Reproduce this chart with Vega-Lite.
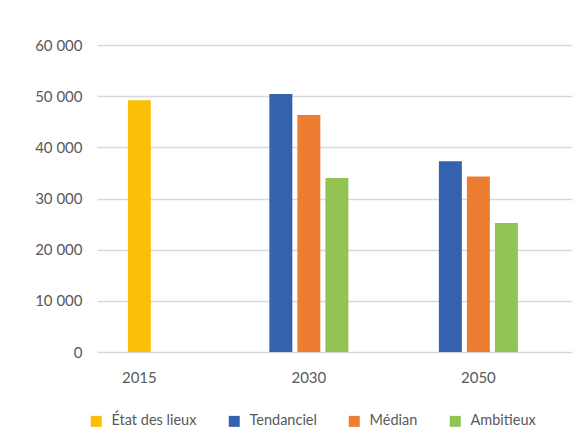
{
  "$schema": "https://vega.github.io/schema/vega-lite/v6.json",
  "autosize": "none",
  "width": 475,
  "height": 307,
  "padding": {"left": 97, "top": 45, "right": 16, "bottom": 94},
  "background": "white",
  "config": {
    "locale": {"number": {"decimal": ",", "thousands": " ", "grouping": [3], "currency": ["", " €"]}},
    "font": "Lato",
    "view": {"stroke": null},
    "axis": {"labelFont": "Lato", "labelFontSize": 15, "labelColor": "#595959", "ticks": false, "domain": false, "title": null}
  },
  "data": {
    "values": [
      {"annee": "2015", "scenario": "État des lieux", "valeur": 49200},
      {"annee": "2030", "scenario": "Tendanciel", "valeur": 50400},
      {"annee": "2030", "scenario": "Médian", "valeur": 46300},
      {"annee": "2030", "scenario": "Ambitieux", "valeur": 34000},
      {"annee": "2050", "scenario": "Tendanciel", "valeur": 37300},
      {"annee": "2050", "scenario": "Médian", "valeur": 34300},
      {"annee": "2050", "scenario": "Ambitieux", "valeur": 25200}
    ]
  },
  "encoding": {
    "x": {
      "field": "annee", "type": "nominal",
      "scale": {"domain": ["2015", "2030", "2050"], "paddingInner": 0.534, "paddingOuter": 0.168, "align": 0.05},
      "axis": {"labelAngle": 0, "labelPadding": 18, "grid": false}
    },
    "y": {
      "field": "valeur", "type": "quantitative",
      "scale": {"domain": [0, 60000], "nice": false},
      "axis": {"values": [0, 10000, 20000, 30000, 40000, 50000, 60000], "format": ",d", "labelPadding": 15, "grid": true, "gridColor": "#d9d9d9", "gridWidth": 1.5}
    },
    "color": {
      "field": "scenario", "type": "nominal",
      "scale": {"domain": ["État des lieux", "Tendanciel", "Médian", "Ambitieux"], "range": ["#FCBF08", "#3562AE", "#ED7D31", "#92C353"]},
      "legend": {
        "title": null, "orient": "none", "direction": "horizontal", "columns": 4,
        "legendX": -8, "legendY": 369,
        "symbolType": "square", "symbolSize": 121, "symbolStrokeWidth": 0, "symbolOpacity": 1,
        "labelFont": "Lato", "labelFontSize": 14.5, "labelColor": "#595959", "labelOffset": 8, "columnPadding": 30,
        "encode": {"symbols": {"update": {"fill": {"signal": "datum.label === 'Ambitieux' ? '#70AD47' : scale('color', datum.value)"}, "stroke": {"value": null}}}}
      }
    }
  },
  "layer": [
    {
      "transform": [{"filter": "datum.scenario === 'État des lieux'"}],
      "mark": {"type": "bar", "width": {"band": 0.29}}
    },
    {
      "transform": [{"filter": "datum.scenario !== 'État des lieux'"}],
      "mark": {"type": "bar"},
      "encoding": {
        "xOffset": {"field": "scenario", "type": "nominal", "scale": {"domain": ["Tendanciel", "Médian", "Ambitieux"], "paddingInner": 0.18, "paddingOuter": 0}}
      }
    }
  ]
}
